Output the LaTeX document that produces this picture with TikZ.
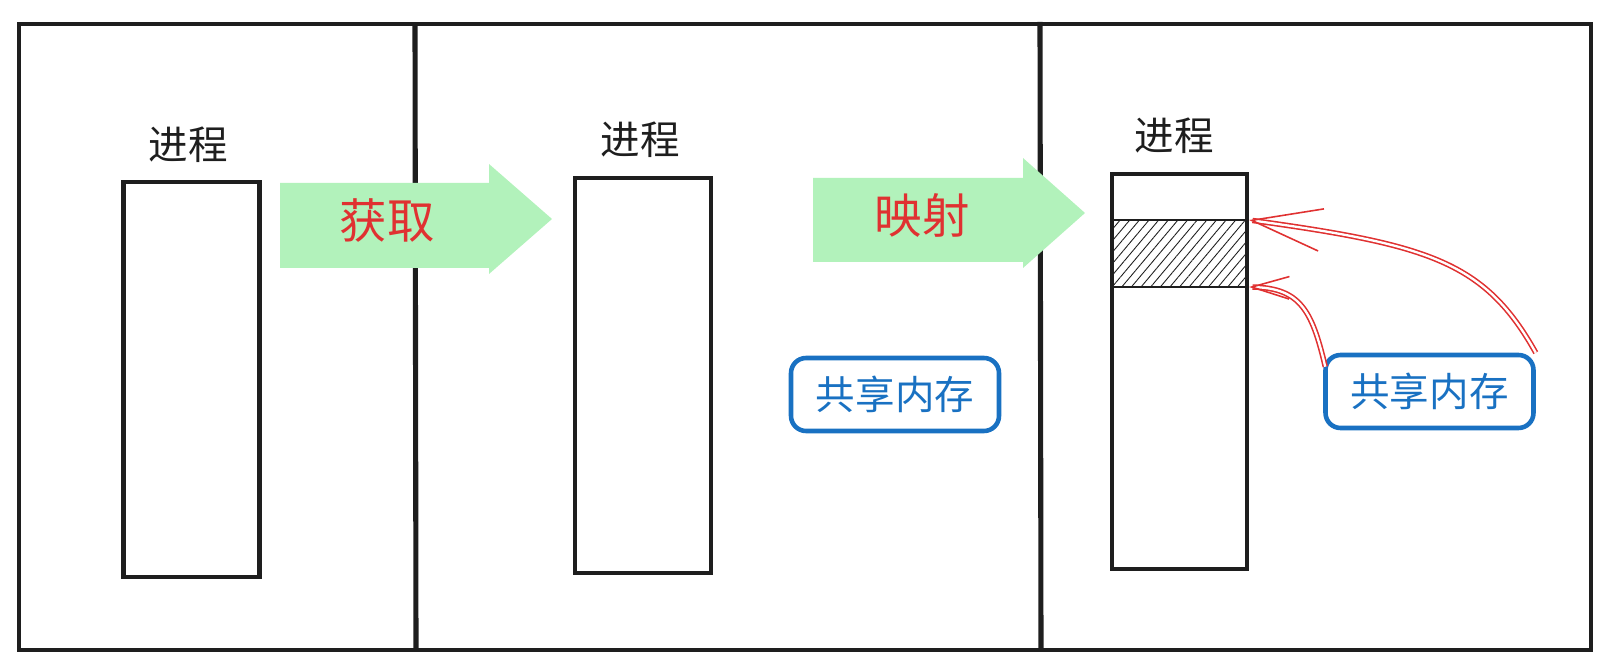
\documentclass[tikz,border=0pt]{standalone}
\usepackage{fontspec}
\newfontfamily\cjk{Noto Sans CJK SC}
\usepackage{tikz}
\usetikzlibrary{arrows.meta,positioning,calc,patterns.meta}
\usepackage{xcolor}
\definecolor{ink}{HTML}{1E1E1E}
\definecolor{flowgreen}{HTML}{B2F2BB}
\definecolor{xred}{HTML}{E03131}
\definecolor{xblue}{HTML}{1971C2}

\begin{document}
\begin{tikzpicture}[
  x=0.02cm, y=-0.02cm,
  proc/.style={rectangle, draw=ink, line width=2.3pt, minimum width=2.72cm, minimum height=7.9cm, inner sep=0pt},
  title/.style={font=\cjk\fontsize{22.5}{27}\selectfont, text=ink, inner sep=0pt},
  verb/.style={font=\cjk\fontsize{27}{32}\selectfont, text=xred, inner sep=0pt},
  shm/.style={rectangle, rounded corners=0.3cm, draw=xblue, line width=2.6pt, minimum width=4.16cm, minimum height=1.46cm, font=\cjk\fontsize{22.5}{27}\selectfont, text=xblue},
  flow/.style={fill=flowgreen},
  link/.style={draw=xred, line width=0.9pt, double=white, double distance=1.3pt}
]
\useasboundingbox (0,0) rectangle (1614,671);

% frame and panels
\draw[ink, line width=2.3pt] (19,24) rectangle (1591,650);
\draw[ink, line width=2.9pt] (415,24) -- (416,650);
\draw[ink, line width=2.9pt] (1040,22) -- (1041,650);

% processes
\node[proc] (p1) at (191.5,379.5) {};
\node[proc] (p2) at (643,375.5) {};
\node[proc, minimum width=2.7cm] (p3) at (1179.5,371.5) {};
\node[title] (t1) at (188,145) {进程};
\node[title] (t2) at (640,140) {进程};
\node[title] (t3) at (1174,136) {进程};

% mapped region
\coordinate (bandtop) at (1112,220);
\coordinate (bandbot) at (1247,287);
\path[pattern={Lines[angle=50, distance=4.2pt, line width=0.5pt]}, pattern color=ink]
  ($(bandtop)+(2,0)$) rectangle ($(bandbot)+(-2,0)$);
\draw[ink, line width=1.2pt] (bandtop) -- (bandtop -| bandbot);
\draw[ink, line width=0.8pt] (bandtop |- bandbot) -- (bandbot);

% big arrows
\fill[flow] (280,183) -- (489,183) -- (489,164) -- (552,219) -- (489,274) -- (489,268) -- (280,268) -- cycle;
\node[verb] (get) at (387,221) {获取};
\fill[flow] (813,178) -- (1023,178) -- (1023,158) -- (1085,213) -- (1023,268) -- (1023,262) -- (813,262) -- cycle;
\node[verb] (map) at (922,216) {映射};

% shared memory
\node[shm] (mem1) at (895,394.5) {共享内存};
\node[shm] (mem2) at (1429.5,391.5) {共享内存};

\draw[link, -{Straight Barb[length=1.4cm, width=0.85cm]}] (mem2.north east)
  .. controls (1485,262) and (1430,245) .. (p3.east |- bandtop);
\draw[link, -{Straight Barb[length=0.75cm, width=0.45cm]}] ($(mem2.north west)+(2,14)$)
  .. controls (1312,310) and (1300,288) .. (p3.east |- bandbot);
\end{tikzpicture}
\end{document}
